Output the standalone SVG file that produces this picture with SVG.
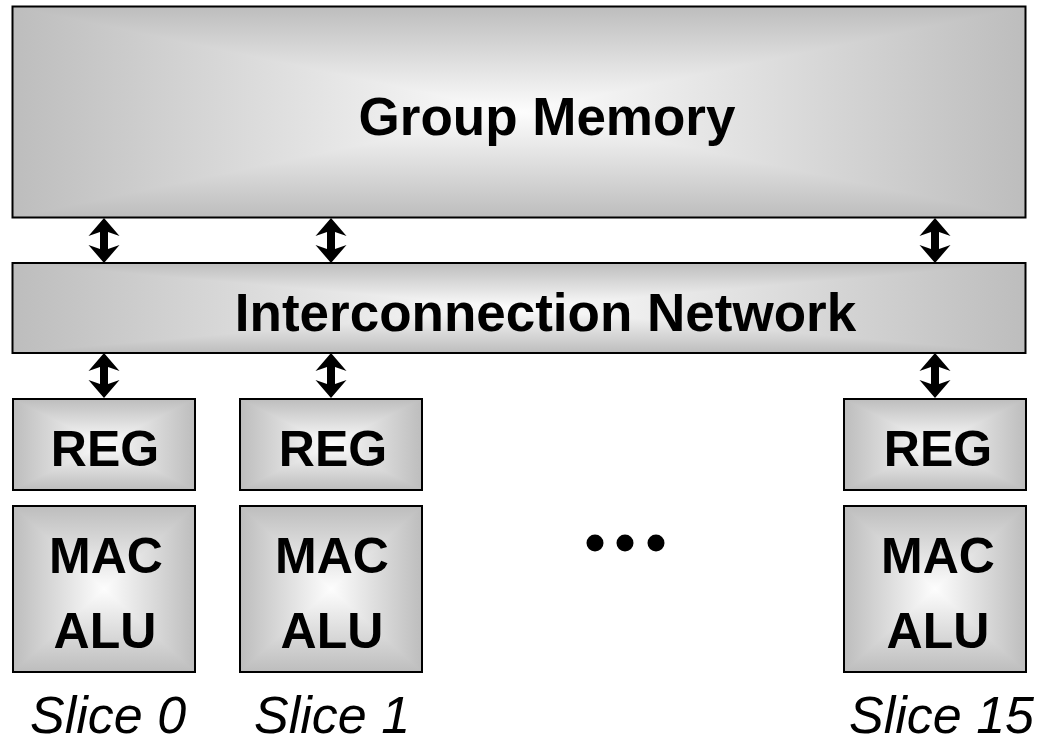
<svg xmlns="http://www.w3.org/2000/svg" width="1039" height="739" viewBox="0 0 1039 739">
<defs>
<linearGradient id="gh" x1="0" y1="0" x2="1" y2="0">
<stop offset="0" stop-color="#bdbdbd"/>
<stop offset="0.5" stop-color="#fdfdfd"/>
<stop offset="1" stop-color="#bdbdbd"/>
</linearGradient>
<linearGradient id="gv" x1="0" y1="0" x2="0" y2="1">
<stop offset="0" stop-color="#bdbdbd"/>
<stop offset="0.5" stop-color="#fdfdfd"/>
<stop offset="1" stop-color="#bdbdbd"/>
</linearGradient>
<path id="dblarrow" d="M0,0 L15.5,18 L4,14 L4,31 L15.5,27 L0,45 L-15.5,27 L-4,31 L-4,14 L-15.5,18 Z"/>
</defs>
<style>
.bh{fill:url(#gh)}
.bv{fill:url(#gv);mix-blend-mode:darken}
.bd{fill:none;stroke:#000;stroke-width:2}
.t{font-family:"Liberation Sans",Arial,sans-serif;font-weight:bold;fill:#000;text-anchor:middle}
.big{font-size:53px}
.mid{font-size:50px}
.sl{font-family:"Liberation Sans",Arial,sans-serif;font-style:italic;font-size:52px;fill:#000}
.arr{fill:#000}
</style>
<rect width="1039" height="739" fill="#fff"/>

<g id="group-memory">
<g style="isolation:isolate">
<rect class="bh" x="12.5" y="6.5" width="1013" height="211"/>
<rect class="bv" x="12.5" y="6.5" width="1013" height="211"/>
</g>
<rect class="bd" x="12.5" y="6.5" width="1013" height="211"/>
<text class="t big" x="547" y="135">Group Memory</text>
</g>

<g id="interconnection-network">
<g style="isolation:isolate">
<rect class="bh" x="12.5" y="263" width="1013" height="90"/>
<rect class="bv" x="12.5" y="263" width="1013" height="90"/>
</g>
<rect class="bd" x="12.5" y="263" width="1013" height="90"/>
<text class="t big" x="545.5" y="331">Interconnection Network</text>
</g>

<g id="reg0">
<g style="isolation:isolate">
<rect class="bh" x="13" y="399" width="182" height="91"/>
<rect class="bv" x="13" y="399" width="182" height="91"/>
</g>
<rect class="bd" x="13" y="399" width="182" height="91"/>
<text class="t mid" x="105" y="466">REG</text>
</g>
<g id="mac0">
<g style="isolation:isolate">
<rect class="bh" x="13" y="506" width="182" height="166"/>
<rect class="bv" x="13" y="506" width="182" height="166"/>
</g>
<rect class="bd" x="13" y="506" width="182" height="166"/>
<text class="t mid" x="106" y="573">MAC</text>
<text class="t mid" x="105" y="648">ALU</text>
</g>

<g id="reg1">
<g style="isolation:isolate">
<rect class="bh" x="240" y="399" width="182" height="91"/>
<rect class="bv" x="240" y="399" width="182" height="91"/>
</g>
<rect class="bd" x="240" y="399" width="182" height="91"/>
<text class="t mid" x="333" y="466">REG</text>
</g>
<g id="mac1">
<g style="isolation:isolate">
<rect class="bh" x="240" y="506" width="182" height="166"/>
<rect class="bv" x="240" y="506" width="182" height="166"/>
</g>
<rect class="bd" x="240" y="506" width="182" height="166"/>
<text class="t mid" x="332" y="573">MAC</text>
<text class="t mid" x="332" y="648">ALU</text>
</g>

<g id="reg15">
<g style="isolation:isolate">
<rect class="bh" x="844" y="399" width="182" height="91"/>
<rect class="bv" x="844" y="399" width="182" height="91"/>
</g>
<rect class="bd" x="844" y="399" width="182" height="91"/>
<text class="t mid" x="938" y="466">REG</text>
</g>
<g id="mac15">
<g style="isolation:isolate">
<rect class="bh" x="844" y="506" width="182" height="166"/>
<rect class="bv" x="844" y="506" width="182" height="166"/>
</g>
<rect class="bd" x="844" y="506" width="182" height="166"/>
<text class="t mid" x="938" y="573">MAC</text>
<text class="t mid" x="938" y="648">ALU</text>
</g>

<g id="ellipsis">
<circle cx="595" cy="543" r="8.5"/>
<circle cx="625" cy="543" r="8.5"/>
<circle cx="656" cy="543" r="8.5"/>
</g>

<g id="labels">
<text class="sl" x="30" y="733">Slice 0</text>
<text class="sl" x="254" y="733">Slice 1</text>
<text class="sl" x="849" y="733">Slice 15</text>
</g>

<g id="connectors">
<use href="#dblarrow" class="arr" x="104" y="218"/>
<use href="#dblarrow" class="arr" x="331" y="218"/>
<use href="#dblarrow" class="arr" x="935" y="218"/>
<use href="#dblarrow" class="arr" x="104" y="353"/>
<use href="#dblarrow" class="arr" x="331" y="353"/>
<use href="#dblarrow" class="arr" x="935" y="353"/>
</g>
</svg>
